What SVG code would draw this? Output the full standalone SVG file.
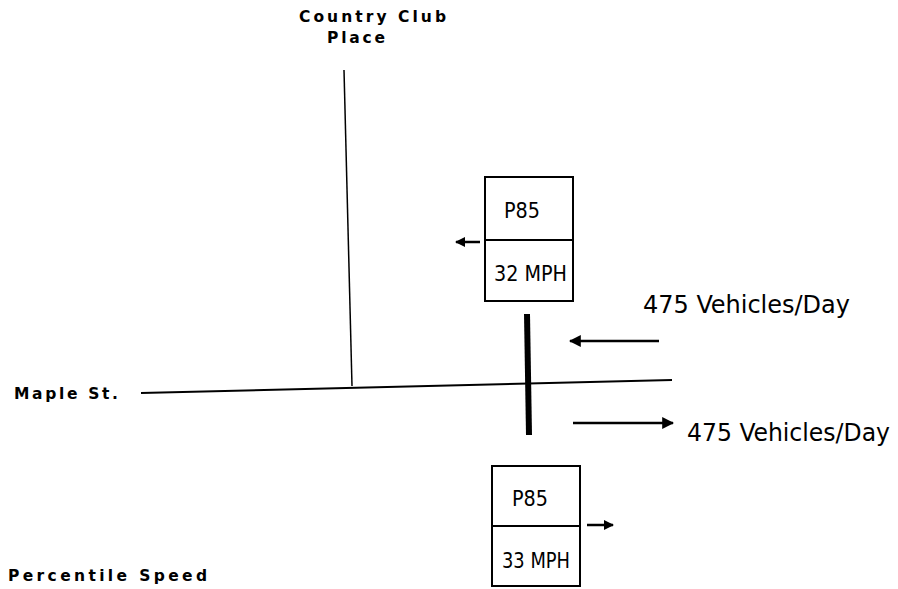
<svg xmlns="http://www.w3.org/2000/svg" width="898" height="589" viewBox="0 0 898 589">
<style>
.lbl{font-family:"DejaVu Sans",sans-serif;font-weight:bold;font-size:15.5px;fill:#000}
.big{font-family:"DejaVu Sans Condensed","DejaVu Sans",sans-serif;font-size:22px;fill:#000}
.vol{font-family:"DejaVu Sans Condensed","DejaVu Sans",sans-serif;font-size:25px;fill:#000}
.box{fill:#fff;stroke:#000;stroke-width:2}
.ln{stroke:#000;fill:none}
</style>
<defs>
<marker id="ah" viewBox="0 0 10 10" refX="9" refY="5" markerWidth="10" markerHeight="10" markerUnits="userSpaceOnUse" orient="auto">
<path d="M0,0 L10,5 L0,10 Z" fill="#000"/>
</marker>
<marker id="ahb" viewBox="0 0 10 10" refX="9" refY="5" markerWidth="12" markerHeight="12" markerUnits="userSpaceOnUse" orient="auto">
<path d="M0,0 L10,5 L0,10 Z" fill="#000"/>
</marker>
</defs>
<rect width="898" height="589" fill="#fff"/>
<g id="streets">
<line class="ln" x1="344" y1="70" x2="352" y2="386" stroke-width="1.5"/>
<line class="ln" x1="141" y1="393" x2="672" y2="380" stroke-width="2"/>
<text class="lbl" x="299" y="22" textLength="147" lengthAdjust="spacing">Country Club</text>
<text class="lbl" x="327" y="43" textLength="58" lengthAdjust="spacing">Place</text>
<text class="lbl" x="14" y="399" textLength="104" lengthAdjust="spacing">Maple St.</text>
</g>
<g id="counter">
<line class="ln" x1="527" y1="314" x2="529" y2="435" stroke-width="6"/>
</g>
<g id="box-west">
<rect class="box" x="485" y="177" width="88" height="124"/>
<line class="ln" x1="485" y1="240" x2="573" y2="240" stroke-width="2"/>
<text class="big" x="522" y="218" text-anchor="middle" textLength="36" lengthAdjust="spacingAndGlyphs">P85</text>
<text class="big" x="494" y="281" textLength="73" lengthAdjust="spacingAndGlyphs">32 MPH</text>
</g>
<g id="box-east">
<rect class="box" x="492" y="466" width="88" height="120"/>
<line class="ln" x1="492" y1="526" x2="580" y2="526" stroke-width="2"/>
<text class="big" x="530" y="506" text-anchor="middle" textLength="36" lengthAdjust="spacingAndGlyphs">P85</text>
<text class="big" x="502" y="568" textLength="68" lengthAdjust="spacingAndGlyphs">33 MPH</text>
</g>
<g id="volumes">
<text class="vol" x="643" y="313" textLength="207" lengthAdjust="spacingAndGlyphs">475 Vehicles/Day</text>
<text class="vol" x="687" y="441" textLength="203" lengthAdjust="spacingAndGlyphs">475 Vehicles/Day</text>
</g>
<g id="connectors">
<line class="ln" x1="480" y1="242" x2="456" y2="242" stroke-width="2.5" marker-end="url(#ah)"/>
<line class="ln" x1="587" y1="525" x2="613" y2="525" stroke-width="2.5" marker-end="url(#ah)"/>
<line class="ln" x1="659" y1="341" x2="570" y2="341" stroke-width="2.5" marker-end="url(#ahb)"/>
<line class="ln" x1="573" y1="423" x2="673" y2="423" stroke-width="2.5" marker-end="url(#ahb)"/>
</g>
<text class="lbl" x="8" y="581" textLength="199" lengthAdjust="spacing">Percentile Speed</text>
</svg>
